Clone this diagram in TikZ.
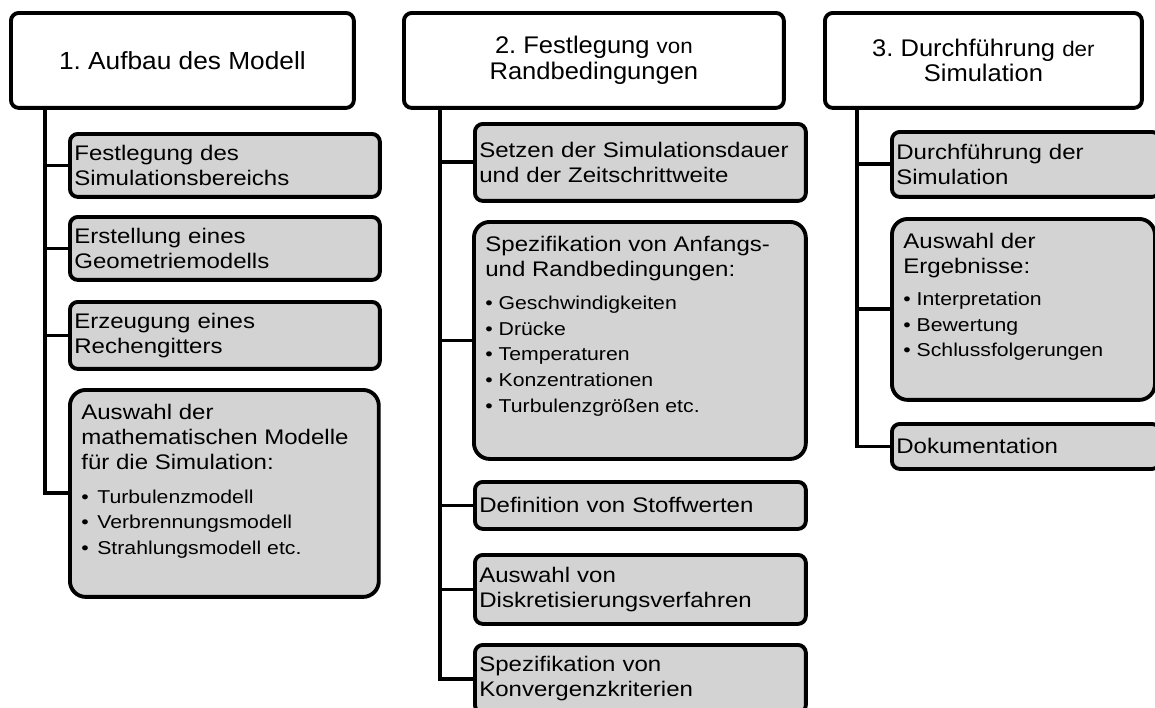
\documentclass[tikz,border=0pt]{standalone}
\usepackage{fontspec}
\setmainfont{Liberation Sans}[FakeStretch=1.14]
\newfontfamily\headfont{Liberation Sans}[FakeStretch=1.06]
\frenchspacing
\definecolor{boxgray}{RGB}{211,211,211}
\newcommand{\mainsz}{\fontsize{12}{14.2}\selectfont}
\newcommand{\itemsz}{\fontsize{10.6}{14.7}\selectfont}
\newcommand{\dotA}[1]{\makebox[9.1pt][l]{\textbullet}#1}
\newcommand{\dotB}[1]{\textbullet\ #1}

\tikzset{
  head/.style={draw, line width=2.2pt, rounded corners=4.5pt, fill=white,
    align=center, minimum height=1.9cm, anchor=north west,
    font=\headfont\fontsize{13.7}{14.6}\selectfont},
  leaf/.style={draw, line width=2.2pt, rounded corners=4.5pt, fill=boxgray,
    align=left, inner xsep=2.5pt, inner ysep=0pt, anchor=north west, font=\mainsz},
  bigleaf/.style={draw, line width=2.2pt, rounded corners=9pt, fill=boxgray,
    inner xsep=6.5pt, inner ysep=8pt, anchor=north west},
  link/.style={line width=2.2pt},
  colA/.style={leaf, text width=6.024cm},
  colB/.style={leaf, text width=6.444cm},
  colC/.style={leaf, text width=5.184cm},
}

\begin{document}
\begin{tikzpicture}[x=0.02cm, y=-0.02cm]
\useasboundingbox (0,0) rectangle (1155,707);
\clip (0,0) rectangle (1155,707);

\node[head, minimum width=6.86cm, font=\headfont\fontsize{14.1}{17}\selectfont] (head1) at (9,11) {1. Aufbau des Modell};
\node[colA, minimum height=1.26cm] (c1a) at (68,132) {Festlegung des\\Simulationsbereichs};
\node[colA, minimum height=1.26cm] (c1b) at (68,215) {Erstellung eines\\Geometriemodells};
\node[colA, minimum height=1.34cm] (c1c) at (68,300) {Erzeugung eines\\Rechengitters};
\node[bigleaf] (c1d) at (68,388) {\begin{minipage}[c][101.8pt][t]{162.8pt}\mainsz
  Auswahl der\\mathematischen Modelle\\für die Simulation:\par\vspace{4.6pt}\itemsz
  \dotA{Turbulenzmodell}\\\dotA{Verbrennungsmodell}\\\dotA{Strahlungsmodell etc.}\end{minipage}};

\node[head, minimum width=7.6cm] (head2) at (402,11) {2. Festlegung {\fontsize{12}{14.6}\selectfont von}\\Randbedingungen};
\node[colB, minimum height=1.54cm] (c2a) at (473,122) {Setzen der Simulationsdauer\\und der Zeitschrittweite};
\node[bigleaf] (c2b) at (472,220) {\begin{minipage}[c][118.9pt][t]{175.9pt}\mainsz
  Spezifikation von Anfangs-\\und Randbedingungen:\par\vspace{4.1pt}\itemsz
  \dotB{Geschwindigkeiten}\\\dotB{Drücke}\\\dotB{Temperaturen}\\\dotB{Konzentrationen}\\\dotB{Turbulenzgrößen etc.}\end{minipage}};
\node[colB, minimum height=0.94cm] (c2c) at (473,480) {Definition von Stoffwerten};
\node[colB, minimum height=1.38cm] (c2d) at (473,553) {Auswahl von\\Diskretisierungsverfahren};
\node[colB, minimum height=1.36cm] (c2e) at (473,643) {Spezifikation von\\Konvergenzkriterien};

\node[head, minimum width=6.34cm] (head3) at (823,11) {3. Durchführung {\fontsize{12}{14.6}\selectfont der}\\Simulation};
\node[colC, minimum height=1.3cm] (c3a) at (890,130) {Durchführung der\\Simulation};
\node[bigleaf] (c3b) at (890,217) {\begin{minipage}[c][87pt][t]{136.7pt}\mainsz
  Auswahl der\\Ergebnisse:\par\vspace{3.5pt}\itemsz
  \dotB{Interpretation}\\\dotB{Bewertung}\\\dotB{Schlussfolgerungen}\end{minipage}};
\node[colC, minimum height=0.9cm] (c3c) at (890,422) {Dokumentation};

\coordinate (t1) at (45,106);
\coordinate (t2) at (440,106);
\coordinate (t3) at (857,106);
\draw[link] (t1) |- (c1d.west);
\draw[link] (t2) |- (c2e.west);
\draw[link] (t3) |- (c3c.west);
\foreach \n in {c1a,c1b,c1c}
  \draw[link] (\n.west) -- (\n.west -| t1);
\foreach \n in {c2a,c2b,c2c,c2d}
  \draw[link] (\n.west) -- (\n.west -| t2);
\foreach \n in {c3a,c3b}
  \draw[link] (\n.west) -- (\n.west -| t3);
\end{tikzpicture}
\end{document}
